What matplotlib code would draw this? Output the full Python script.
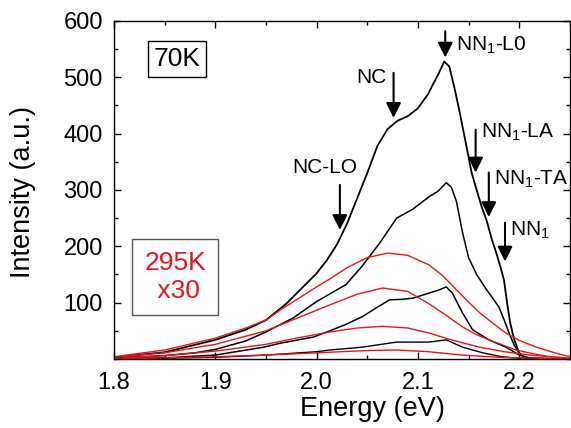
import matplotlib
matplotlib.use("Agg")
import matplotlib.pyplot as plt
from matplotlib.ticker import MultipleLocator

plt.rcParams['font.family'] = ['Liberation Sans', 'DejaVu Sans']
plt.rcParams['mathtext.fontset'] = 'custom'
plt.rcParams['mathtext.rm'] = 'Liberation Sans'
plt.rcParams['mathtext.it'] = 'Liberation Sans'

# 70K spectra (black)
e_k1 = [1.80, 1.85, 1.90, 1.93, 1.95, 1.97, 2.00, 2.01, 2.02, 2.03, 2.04, 2.05, 2.06, 2.07,
        2.08, 2.09, 2.10, 2.11, 2.115, 2.12, 2.126, 2.131, 2.136, 2.141, 2.148, 2.153, 2.158,
        2.163, 2.168, 2.173, 2.178, 2.182, 2.185, 2.188, 2.191, 2.195, 2.20, 2.205, 2.21, 2.25]
i_k1 = [3, 12, 34, 52, 69, 98, 152, 175, 203, 240, 285, 330, 378, 408,
        423, 431, 445, 470, 488, 505, 528, 519, 482, 440, 377, 331, 300,
        270, 245, 212, 185, 160, 140, 100, 65, 35, 10, 3, 0, 0]

e_k2 = [1.80, 1.85, 1.88, 1.90, 1.93, 1.95, 1.977, 2.00, 2.029, 2.045, 2.062, 2.079, 2.095,
        2.111, 2.12, 2.128, 2.133, 2.138, 2.144, 2.150, 2.158, 2.167, 2.175, 2.180, 2.185,
        2.190, 2.195, 2.200, 2.205, 2.21, 2.25]
i_k2 = [2, 6, 11, 17, 32, 48, 73, 102, 132, 165, 205, 250, 266,
        288, 298, 313, 305, 280, 225, 180, 150, 125, 105, 92, 70,
        46, 25, 11, 4, 0, 0]

e_k3 = [1.80, 1.85, 1.90, 1.948, 1.964, 1.997, 2.013, 2.027, 2.045, 2.06, 2.072, 2.085, 2.095,
        2.111, 2.12, 2.128, 2.134, 2.144, 2.154, 2.170, 2.187, 2.20, 2.21, 2.25]
i_k3 = [0, 2, 7, 21, 28, 39, 50, 60, 75, 92, 105, 106, 108,
        117, 122, 128, 117, 82, 52, 34, 21, 7, 2, 0]

e_k4 = [1.80, 1.90, 1.95, 2.00, 2.013, 2.045, 2.079, 2.10, 2.111, 2.128, 2.144, 2.164, 2.183, 2.20, 2.25]
i_k4 = [0, 3, 7, 13, 16, 21, 30, 30, 30, 34, 21, 11, 4, 1, 0]

# 295K spectra x30 (red)
e_r1 = [1.80, 1.85, 1.90, 1.93, 1.951, 1.964, 1.98, 2.00, 2.013, 2.03, 2.05, 2.07, 2.09,
        2.111, 2.125, 2.138, 2.15, 2.161, 2.175, 2.187, 2.20, 2.217, 2.235, 2.25]
i_r1 = [4, 16, 37, 55, 70, 87, 105, 128, 142, 162, 180, 188, 184,
        167, 147, 123, 101, 82, 62, 46, 33, 21, 11, 4]

e_r2 = [1.80, 1.85, 1.90, 1.95, 1.98, 2.013, 2.04, 2.065, 2.09, 2.111, 2.13, 2.144, 2.157,
        2.170, 2.185, 2.197, 2.212, 2.227, 2.25]
i_r2 = [3, 11, 26, 50, 72, 96, 115, 126, 120, 98, 75, 57, 44,
        34, 24, 16, 10, 5, 1]

e_r3 = [1.80, 1.85, 1.90, 1.95, 1.98, 2.013, 2.04, 2.065, 2.09, 2.111, 2.135, 2.161, 2.185, 2.21, 2.25]
i_r3 = [1, 6, 14, 26, 37, 48, 55, 58, 55, 46, 33, 21, 13, 7, 1]

e_r4 = [1.80, 1.90, 1.95, 2.013, 2.05, 2.08, 2.11, 2.144, 2.18, 2.22, 2.25]
i_r4 = [0, 4, 7, 12, 15, 16, 13, 7, 3, 1, 0]

# peak labels: text, arrow x, arrow top, arrow tip, text x, text y, alignment
peaks = [
    ('NN$_1$-L0', 2.127, 582, 535, 2.138, 556, 'left'),
    ('NC', 2.076, 508, 428, 2.069, 500, 'right'),
    ('NC-LO', 2.023, 309, 229, 2.008, 340, 'center'),
    ('NN$_1$-LA', 2.157, 407, 331, 2.162, 402, 'left'),
    ('NN$_1$-TA', 2.170, 331, 252, 2.175, 318, 'left'),
    ('NN$_1$', 2.186, 242, 173, 2.191, 229, 'left'),
]

red = '#e8141c'

fig = plt.figure(figsize=(5.71, 4.28), dpi=100)
ax = fig.add_axes([0.1996, 0.1612, 0.7984, 0.7898])

for e, i, w in [(e_k1, i_k1, 1.3), (e_k2, i_k2, 1.1), (e_k3, i_k3, 1.1), (e_k4, i_k4, 1.0)]:
    ax.plot(e, i, color='black', lw=w)
for e, i in [(e_r1, i_r1), (e_r2, i_r2), (e_r3, i_r3), (e_r4, i_r4)]:
    ax.plot(e, i, color=red, lw=1.0)

for txt, xa, y0, y1, xt, yt, ha in peaks:
    ax.annotate('', xy=(xa, y1), xytext=(xa, y0),
                arrowprops=dict(arrowstyle='-|>,head_length=0.9,head_width=0.45',
                                color='black', lw=1.5, shrinkA=0, shrinkB=0))
    ax.text(xt, yt, txt, fontsize=15, ha=ha, va='center')

ax.text(0.138, 0.888, '70K', transform=ax.transAxes, fontsize=19, ha='center', va='center',
        bbox=dict(boxstyle='square,pad=0.22', fc='white', ec='black', lw=1.0))
ax.text(0.134, 0.243, '295K\n x30', transform=ax.transAxes, fontsize=19, ha='center',
        va='center', color=red, linespacing=1.2,
        bbox=dict(boxstyle='square,pad=0.45', fc='white', ec='#555555', lw=1.0))

ax.set_xlim(1.8, 2.25)
ax.set_ylim(0, 600)
ax.set_xticks([1.8, 1.9, 2.0, 2.1, 2.2])
ax.set_xticklabels(['1.8', '1.9', '2.0', '2.1', '2.2'])
ax.set_yticks([100, 200, 300, 400, 500, 600])
ax.xaxis.set_minor_locator(MultipleLocator(0.05))
ax.yaxis.set_minor_locator(MultipleLocator(50))
ax.tick_params(which='both', direction='in', top=True, right=True, labelsize=17, width=1.0)
ax.tick_params(which='major', length=5)
ax.tick_params(which='minor', length=3)
ax.tick_params(axis='x', pad=9)
ax.tick_params(axis='y', pad=8)
for s in ax.spines.values():
    s.set_linewidth(1.0)

ax.set_xlabel('Energy (eV)', fontsize=19.5)
ax.set_ylabel('Intensity (a.u.)', fontsize=19.5)
ax.xaxis.set_label_coords(0.568, -0.11)
ax.yaxis.set_label_coords(-0.171, 0.494)

fig.savefig('out.png', dpi=100)
